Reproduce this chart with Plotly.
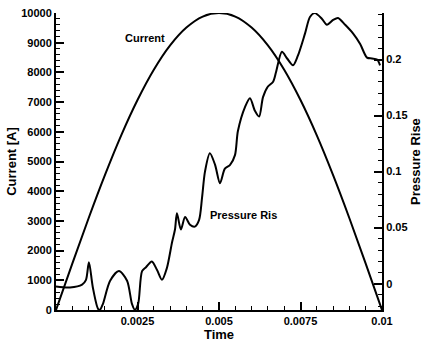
import plotly.graph_objects as go

# Current trace
t_current = [0, 0.0005, 0.001, 0.0015, 0.002, 0.0025, 0.003, 0.0035, 0.004, 0.0045,
             0.005, 0.0055, 0.006, 0.0065, 0.007, 0.0075, 0.008, 0.0085, 0.009, 0.0095, 0.01]
current = [0, 1560, 3090, 4540, 5880, 7070, 8090, 8910, 9510, 9880,
           10000, 9880, 9510, 8910, 8090, 7070, 5880, 4540, 3090, 1560, 0]

# Pressure rise trace
t_pressure = [0, 0.00043, 0.0008, 0.00092, 0.00101, 0.00113, 0.00129, 0.00135, 0.00144,
              0.00166, 0.00193, 0.00218, 0.00233, 0.00242, 0.00252, 0.00264, 0.00276,
              0.00294, 0.0031, 0.00325, 0.0034, 0.00356, 0.00365, 0.00371, 0.00383,
              0.00396, 0.00411, 0.00426, 0.00439, 0.00448, 0.00457, 0.00472, 0.00488,
              0.00503, 0.00518, 0.00534, 0.00549, 0.00558, 0.0058, 0.00595, 0.0061,
              0.00623, 0.00635, 0.0065, 0.00666, 0.00675, 0.00693, 0.00709, 0.00727,
              0.00742, 0.00764, 0.00779, 0.00794, 0.00816, 0.00831, 0.0085, 0.00865,
              0.00887, 0.00911, 0.00933, 0.00954, 0.00969, 0.00985, 0.00994]
pressure = [-0.0026, -0.0034, -0.0009, 0.0034, 0.019, -0.0034, -0.0224, -0.0233, -0.018,
            0.0026, 0.0112, 0.0026, -0.018, -0.0233, -0.018, 0.0112, 0.0147,
            0.0198, 0.0121, 0.0034, 0.0138, 0.037, 0.0483, 0.0629, 0.0483,
            0.0595, 0.0526, 0.0509, 0.0569, 0.0767, 0.1, 0.1164, 0.106,
            0.0897, 0.1026, 0.106, 0.1147, 0.1362, 0.1578, 0.1655, 0.1543,
            0.1491, 0.1664, 0.1759, 0.1802, 0.1888, 0.2069, 0.2009, 0.1948,
            0.2034, 0.2233, 0.2379, 0.2414, 0.2362, 0.231, 0.2353, 0.2371,
            0.231, 0.2233, 0.2138, 0.2017, 0.2009, 0.2, 0.1948]

# tick steps (major, minor) per axis
x_step, x_minor = 0.0025, 0.0005
y_step, y_minor = 1000, 200
y2_step, y2_minor = 0.05, 0.01

FONT = "Liberation Sans"
tickfont = dict(family=FONT, size=11, color="black", weight="bold")
titlefont = dict(family=FONT, size=13, color="black", weight="bold")

fig = go.Figure()
fig.add_trace(go.Scatter(x=t_current, y=current, mode="lines",
                         line=dict(color="black", width=2, shape="spline"),
                         showlegend=False))
fig.add_trace(go.Scatter(x=t_pressure, y=pressure, mode="lines", yaxis="y2",
                         line=dict(color="black", width=2, shape="spline", smoothing=0.8),
                         showlegend=False))

axis_common = dict(showgrid=False, zeroline=False, showline=True, linecolor="black",
                   linewidth=2, ticks="inside", tickcolor="black", tickwidth=2,
                   ticklen=8, tickfont=tickfont, tickmode="linear", tick0=0)

def minor(step):
    return dict(dtick=step, ticks="inside", ticklen=4, tickcolor="black", tickwidth=1)

fig.update_layout(
    width=425, height=345,
    margin=dict(l=56, r=43, t=7, b=32),
    plot_bgcolor="white", paper_bgcolor="white",
    xaxis=dict(range=[0, 0.01], dtick=x_step, labelalias={"0": " "},
               title=dict(text="Time", font=titlefont, standoff=2),
               minor=minor(x_minor), **axis_common),
    yaxis=dict(range=[0, 10000], dtick=y_step, tickformat="d",
               title=dict(text="Current [A]", font=titlefont, standoff=2),
               minor=minor(y_minor), **axis_common),
    yaxis2=dict(range=[-0.0235, 0.2415], overlaying="y", side="right", anchor="x",
                dtick=y2_step,
                title=dict(text="Pressure Rise", font=titlefont, standoff=0),
                minor=minor(y2_minor), **axis_common),
    annotations=[
        dict(x=0.00272, y=9150, xref="x", yref="y", text="Current", showarrow=False,
             font=dict(family=FONT, size=11, color="black", weight="bold")),
        dict(x=0.00574, y=3200, xref="x", yref="y", text="Pressure Ris", showarrow=False,
             font=dict(family=FONT, size=11, color="black", weight="bold")),
    ],
)

fig.write_html("out.html")
